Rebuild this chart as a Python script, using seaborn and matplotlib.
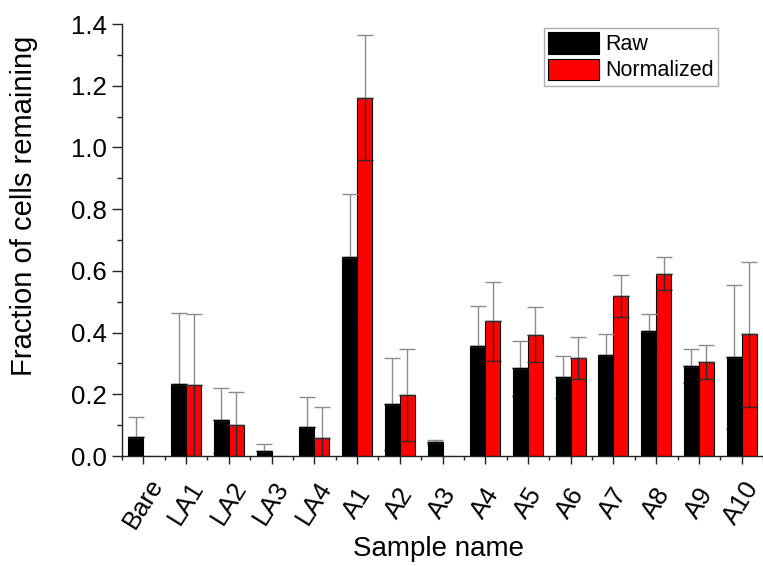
import matplotlib
matplotlib.use("Agg")
import matplotlib.pyplot as plt
import seaborn as sns
import pandas as pd
import numpy as np
from matplotlib.ticker import MultipleLocator, FixedLocator

samples = ["Bare", "LA1", "LA2", "LA3", "LA4", "A1", "A2", "A3",
           "A4", "A5", "A6", "A7", "A8", "A9", "A10"]
raw = [0.061, 0.233, 0.116, 0.015, 0.094, 0.646, 0.168, 0.046,
       0.357, 0.284, 0.256, 0.328, 0.406, 0.292, 0.321]
raw_err = [0.067, 0.229, 0.105, 0.023, 0.098, 0.203, 0.149, 0.006,
           0.128, 0.088, 0.067, 0.068, 0.053, 0.054, 0.232]
normalized = [0.0, 0.230, 0.100, 0.0, 0.058, 1.161, 0.199, 0.0,
              0.436, 0.393, 0.317, 0.518, 0.591, 0.305, 0.395]
norm_err = [0.0, 0.230, 0.106, 0.0, 0.100, 0.203, 0.149, 0.0,
            0.128, 0.089, 0.069, 0.068, 0.053, 0.055, 0.235]
series = ["Raw", "Normalized"]
colors = ["#000000", "#ff0000"]

sns.set_style("white")
plt.rcParams["font.family"] = ["Liberation Sans", "DejaVu Sans"]
plt.rcParams["text.color"] = "black"
plt.rcParams["axes.labelcolor"] = "black"
plt.rcParams["xtick.color"] = "black"
plt.rcParams["ytick.color"] = "black"

df = pd.DataFrame({
    "Sample": samples * 2,
    "Value": raw + normalized,
    "Series": [series[0]] * len(samples) + [series[1]] * len(samples),
})

fig = plt.figure(figsize=(7.63, 5.66), dpi=100)
ax = fig.add_axes([122 / 763, 1 - 456 / 566, 1 - 122 / 763, (456 - 24) / 566])

sns.barplot(data=df, x="Sample", y="Value", hue="Series", order=samples,
            hue_order=series, palette=colors, saturation=1, width=0.7,
            errorbar=None, edgecolor="black", linewidth=0.8, ax=ax, legend=True)

errs = [raw_err, norm_err]
lower_colors = ["#000000", "#2a2a2a"]
for cont, err, lc in zip(ax.containers, errs, lower_colors):
    for p, e in zip(cont.patches, err):
        if e <= 0:
            continue
        xc = p.get_x() + p.get_width() / 2
        h = p.get_height()
        ax.errorbar([xc], [h], yerr=[[0], [e]], fmt="none", ecolor="#8c8c8c",
                    elinewidth=1.0, capsize=5.5, capthick=1.0, zorder=5)
        ax.errorbar([xc], [h], yerr=[[e], [0]], fmt="none", ecolor=lc,
                    elinewidth=1.0, capsize=5.5, capthick=1.0, zorder=5)

ax.set_xlim(-0.5, len(samples) - 0.5)
ax.set_ylim(0, 1.4)
ax.yaxis.set_major_locator(MultipleLocator(0.2))
ax.yaxis.set_minor_locator(MultipleLocator(0.1))
ax.xaxis.set_minor_locator(FixedLocator(np.arange(-0.5, len(samples), 1.0)))
ax.set_yticks(np.arange(0, 1.41, 0.2))
ax.set_yticklabels([f"{v:.1f}" for v in np.arange(0, 1.41, 0.2)])

for s in ["top", "right"]:
    ax.spines[s].set_visible(False)
for s in ["left", "bottom"]:
    ax.spines[s].set_color("#222222")
    ax.spines[s].set_linewidth(1.0)

ax.tick_params(axis="y", which="major", direction="out", length=7, width=1,
               labelsize=18.5, pad=4, left=True, color="#222222")
ax.tick_params(axis="y", which="minor", direction="out", length=3.5, width=1,
               left=True, color="#222222")
ax.tick_params(axis="x", which="major", direction="out", length=6, width=1,
               labelsize=18.5, pad=28, bottom=True, color="#222222")
ax.tick_params(axis="x", which="minor", direction="out", length=3, width=1,
               bottom=True, color="#222222")
for lab in ax.get_xticklabels():
    lab.set_rotation(58)
    lab.set_ha("center")
    lab.set_va("center")

ax.set_xlabel("Sample name", fontsize=20)
ax.set_ylabel("Fraction of cells remaining", fontsize=21)
ax.xaxis.set_label_coords(0.493, -0.185)
ax.yaxis.set_label_coords(-0.131, 0.58)

leg = ax.legend(loc="upper right", bbox_to_anchor=(718 / 763, 1 - 28 / 566),
                bbox_transform=fig.transFigure, borderaxespad=0,
                fontsize=15.5, frameon=True, fancybox=False,
                handlelength=2.35, handleheight=1.15, handletextpad=0.3,
                labelspacing=0.15, borderpad=0.2)
leg.get_frame().set_edgecolor("#999999")
leg.get_frame().set_linewidth(1.0)
for h in leg.legend_handles:
    h.set_edgecolor("black")

fig.savefig("out.png", dpi=100)
